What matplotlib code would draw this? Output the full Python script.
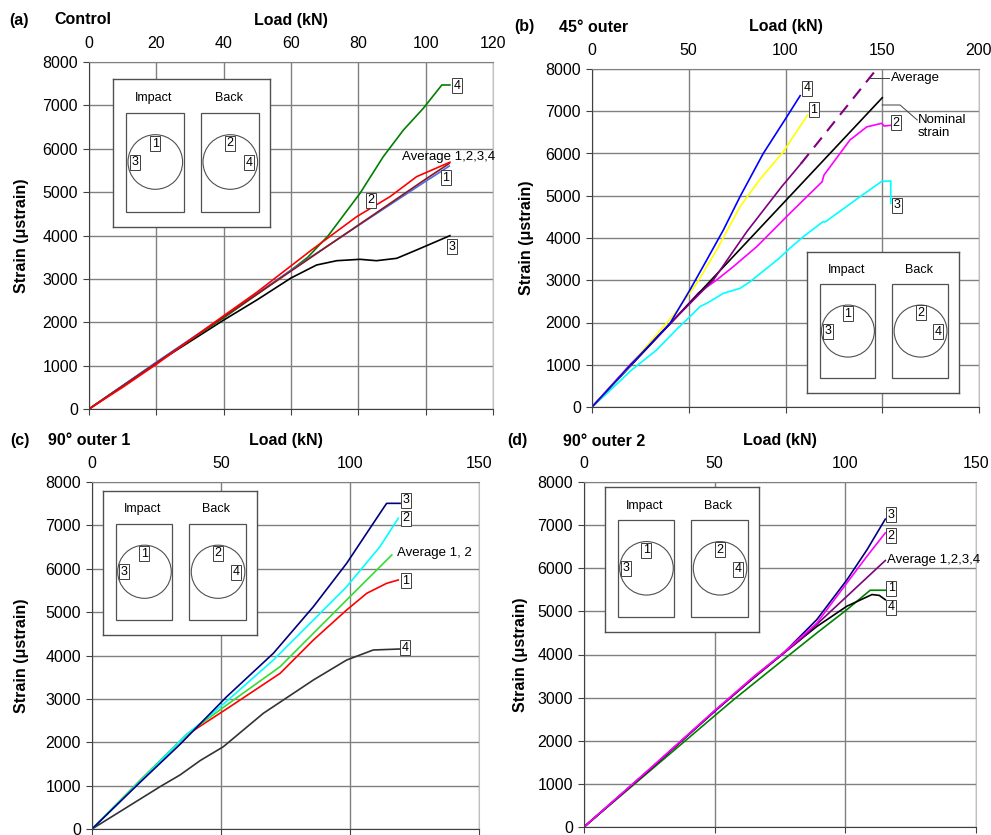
import matplotlib
matplotlib.use('Agg')
import matplotlib.pyplot as plt
from matplotlib.patches import Rectangle, Circle

plt.rcParams['font.family'] = ['Liberation Sans', 'DejaVu Sans']

W, H = 991, 835

# ---- (a) Control ----
a_avg_x = [0, 20, 40, 60, 80, 100, 107]
a_avg_y = [0, 1060, 2120, 3180, 4240, 5300, 5660]
a_1_x = [0, 20, 40, 60, 80, 100, 107]
a_1_y = [0, 1080, 2130, 3200, 4230, 5250, 5600]
a_2_x = [0, 10, 20, 40, 50, 60, 66, 79.5, 89.4, 97.3, 107.2]
a_2_y = [0, 500, 1030, 2150, 2700, 3300, 3660, 4434, 4895, 5356, 5690]
a_3_x = [0, 20, 40, 50, 60, 67.6, 73.6, 80.5, 85.4, 91.4, 97.3, 107.2]
a_3_y = [0, 1060, 2050, 2520, 3020, 3320, 3419, 3451, 3419, 3474, 3666, 3996]
a_4_x = [0, 20, 40, 60, 65, 71.1, 80.5, 87.4, 93.4, 99.3, 104.8, 107.2]
a_4_y = [0, 1070, 2100, 3200, 3500, 4000, 4973, 5817, 6432, 6932, 7470, 7470]

# ---- (b) 45 outer ----
b_4_x = [0, 20, 40.3, 50.6, 59.3, 67.9, 76.5, 88.5, 100.7, 107.6]
b_4_y = [0, 1000, 1980, 2770, 3480, 4190, 4980, 6000, 6870, 7370]
b_1_x = [0, 20, 42.9, 54.1, 64.4, 76.5, 87, 98.9, 111.4]
b_1_y = [0, 1000, 2218, 2927, 3716, 4741, 5400, 6043, 6910]
b_avg_x = [0, 20, 40, 62.7, 80, 98, 108]
b_avg_y = [0, 1000, 1960, 3006, 4150, 5214, 5760]
b_avgext_x = [108, 148]
b_avgext_y = [5760, 8050]
b_nom_x = [0, 150]
b_nom_y = [0, 7320]
b_2_x = [0, 20, 40, 55, 64.4, 73, 85.1, 102.4, 118.9, 119.9, 133.3, 142, 149.7, 151, 155]
b_2_y = [0, 1020, 1950, 2700, 3006, 3321, 3794, 4590, 5330, 5490, 6320, 6630, 6714, 6650, 6670]
b_3_x = [0, 10, 20, 33.4, 44, 50.6, 55.9, 59.3, 67.9, 76.5, 81.7, 97, 102.3, 109.3, 119.4, 120.5,
         138.6, 149.7, 154.4, 154.4]
b_3_y = [0, 420, 860, 1350, 1850, 2137, 2380, 2454, 2691, 2809, 2966, 3530, 3760, 4035, 4386, 4380,
         4980, 5340, 5350, 4820]

# ---- (c) 90 outer 1 ----
c_3_x = [0, 18.7, 34.1, 52.2, 70.3, 85.8, 98.7, 111.6, 114.2, 119.4]
c_3_y = [0, 1080, 1950, 3050, 4051, 5125, 6125, 7278, 7508, 7508]
c_2_x = [0, 20, 36.8, 52.3, 70.3, 85.8, 98.7, 111.6, 118.7]
c_2_y = [0, 1180, 2180, 2950, 3896, 4818, 5586, 6508, 7163]
c_avg_x = [0, 20, 37, 54.9, 72.9, 85.8, 98.7, 116.2]
c_avg_y = [0, 1200, 2200, 2975, 3742, 4511, 5280, 6317]
c_1_x = [0, 20, 37, 53.5, 72.9, 85.8, 98.7, 106.5, 114.2, 118.7]
c_1_y = [0, 1200, 2180, 2820, 3588, 4357, 5049, 5434, 5664, 5741]
c_4_x = [0, 26.5, 34.1, 42, 50.9, 66.4, 85.8, 98.7, 109, 119.4]
c_4_y = [0, 980, 1245, 1580, 1897, 2667, 3435, 3896, 4127, 4150]

# ---- (d) 90 outer 2 ----
d_3_x = [0, 25, 50, 65, 76.3, 89.1, 100.6, 108.3, 115.3]
d_3_y = [0, 1330, 2680, 3480, 4030, 4810, 5730, 6430, 7140]
d_2_x = [0, 25, 50, 65, 76.3, 89.1, 100.6, 108.3, 115.3]
d_2_y = [0, 1340, 2700, 3490, 4040, 4730, 5660, 6280, 6820]
d_avg_x = [0, 25, 50, 65, 82.7, 100.6, 115.3]
d_avg_y = [0, 1330, 2690, 3470, 4340, 5350, 6180]
d_1_x = [0, 25, 50, 57.2, 76.3, 89.1, 100.6, 109.5, 115.3]
d_1_y = [0, 1290, 2580, 2950, 3880, 4500, 5040, 5490, 5490]
d_4_x = [0, 25, 50, 65, 76.3, 89.1, 100.6, 110.2, 113, 115.3]
d_4_y = [0, 1320, 2690, 3460, 4030, 4650, 5120, 5390, 5370, 5270]

y_ticks = [0, 1000, 2000, 3000, 4000, 5000, 6000, 7000, 8000]


def fx(px):
    return px / W


def fy(py):
    return 1 - py / H


fig = plt.figure(figsize=(W / 100, H / 100), dpi=100)


def make_axes(left, top, right, bottom, xmax, xstep):
    ax = fig.add_axes([fx(left), fy(bottom), (right - left) / W, (bottom - top) / H])
    ax.set_xlim(0, xmax)
    ax.set_ylim(0, 8000)
    ax.set_xticks(list(range(0, xmax + 1, xstep)))
    ax.set_yticks(y_ticks)
    ax.grid(True, color='#808080', lw=1.0)
    ax.set_axisbelow(True)
    ax.tick_params(axis='x', bottom=True, top=False, labelbottom=False, labeltop=True,
                   direction='out', length=4, pad=4.2, labelsize=11.5, color='#404040')
    ax.tick_params(axis='y', direction='out', length=4, pad=4, labelsize=11.5, color='#404040')
    for s in ['left', 'bottom']:
        ax.spines[s].set_color('#404040')
    ax.spines['top'].set_color('#808080')
    ax.spines['right'].set_color('#c0c0c0')
    return ax


def box_label(ax, x, y, s, ha='center'):
    ax.text(x, y, s, fontsize=9, ha=ha, va='center', zorder=5,
            bbox=dict(boxstyle='square,pad=0.12', fc='white', ec='#404040', lw=0.7))


def inset(left, top, w, h):
    ia = fig.add_axes([fx(left), fy(top + h), w / W, h / H])
    ia.set_xlim(0, 157)
    ia.set_ylim(148, 0)
    ia.set_xticks([])
    ia.set_yticks([])
    for s in ia.spines.values():
        s.set_color('#505050')
        s.set_linewidth(1.0)
    ia.set_facecolor('white')
    ia.text(40.7, 19, 'Impact', fontsize=9, ha='center', va='center')
    ia.text(115.7, 19, 'Back', fontsize=9, ha='center', va='center')
    ia.add_patch(Rectangle((13, 34), 57.7, 98.7, fill=False, ec='#505050', lw=0.9))
    ia.add_patch(Rectangle((87.7, 34), 58, 98.7, fill=False, ec='#505050', lw=0.9))
    ia.add_patch(Circle((42.3, 83), 27.3, fill=False, ec='#505050', lw=0.8))
    ia.add_patch(Circle((117.3, 83), 27.3, fill=False, ec='#505050', lw=0.8))
    box_label(ia, 42.3, 64.7, '1')
    box_label(ia, 21.7, 83, '3')
    box_label(ia, 117.3, 64, '2')
    box_label(ia, 135.7, 83.7, '4')


def headers(left, top, right, bottom, letter, lx, title, tx, ty, ylx):
    fig.text(fx(lx), fy(ty), letter, fontsize=11.5, fontweight='bold', ha='left', va='center')
    fig.text(fx(tx), fy(ty), title, fontsize=11.5, fontweight='bold', ha='left', va='center')
    fig.text(fx((left + right) / 2), fy(ty), 'Load (kN)', fontsize=11.5, fontweight='bold',
             ha='center', va='center')
    fig.text(fx(ylx), fy((top + bottom) / 2), 'Strain (\u03bcstrain)', fontsize=11.5,
             fontweight='bold', rotation=90, ha='center', va='center')


LW = 1.2

# (a)
ax = make_axes(89, 62, 493, 409, 120, 20)
ax.plot(a_3_x, a_3_y, color='black', lw=LW)
ax.plot(a_4_x, a_4_y, color='#008000', lw=LW)
ax.plot(a_1_x, a_1_y, color='#4a6cf0', lw=LW)
ax.plot(a_avg_x, a_avg_y, color='#8b1a1a', lw=LW)
ax.plot(a_2_x, a_2_y, color='red', lw=LW)
box_label(ax, 109.3, 7447, '4')
box_label(ax, 106.0, 5326, '1')
box_label(ax, 83.8, 4818, '2')
box_label(ax, 107.8, 3735, '3')
ax.text(93.0, 5810, 'Average 1,2,3,4', fontsize=9.5, ha='left', va='center')
headers(89, 62, 493, 409, '(a)', 9, 'Control', 54, 20, 22)
inset(113, 79, 157, 148)

# (b)
ax = make_axes(592, 69, 979, 407, 200, 50)
ax.plot(b_3_x, b_3_y, color='#00ffff', lw=LW)
ax.plot(b_2_x, b_2_y, color='#ff00ff', lw=LW)
ax.plot(b_nom_x, b_nom_y, color='black', lw=LW)
ax.plot(b_avg_x, b_avg_y, color='#800080', lw=LW)
ax.plot(b_avgext_x, b_avgext_y, color='#800080', lw=LW + 0.3, ls=(0, (6, 4)))
ax.plot(b_1_x, b_1_y, color='#ffff00', lw=LW)
ax.plot(b_4_x, b_4_y, color='#0000ff', lw=LW)
box_label(ax, 111.1, 7550, '4')
box_label(ax, 114.7, 7030, '1')
box_label(ax, 157.1, 6722, '2')
box_label(ax, 157.6, 4781, '3')
ax.plot([143.5, 153.5], [7787, 7787], color='#404040', lw=0.7)
ax.text(154.5, 7787, 'Average', fontsize=9.5, ha='left', va='center')
ax.plot([150, 159.2, 168.1], [7148, 7148, 6793], color='#404040', lw=0.7)
ax.text(168.5, 6640, 'Nominal\nstrain', fontsize=9.5, ha='left', va='center', linespacing=1.1)
headers(592, 69, 979, 407, '(b)', 514, '45\u00b0 outer', 559, 27, 527)
inset(807, 252, 152, 141)

# (c)
ax = make_axes(92, 482, 479, 829, 150, 50)
ax.plot(c_4_x, c_4_y, color='#333333', lw=LW)
ax.plot(c_1_x, c_1_y, color='red', lw=LW)
ax.plot(c_avg_x, c_avg_y, color='#33dd33', lw=LW)
ax.plot(c_2_x, c_2_y, color='#00ffff', lw=LW)
ax.plot(c_3_x, c_3_y, color='#000080', lw=LW)
box_label(ax, 121.7, 7585, '3')
box_label(ax, 121.7, 7170, '2')
box_label(ax, 121.7, 5718, '1')
box_label(ax, 121.3, 4173, '4')
ax.text(118.2, 6363, 'Average 1, 2', fontsize=9.5, ha='left', va='center')
headers(92, 482, 479, 829, '(c)', 10, '90\u00b0 outer 1', 48, 440, 22)
inset(103, 491, 154, 144)

# (d)
ax = make_axes(584, 482, 976, 827, 150, 50)
ax.plot(d_3_x, d_3_y, color='#000080', lw=LW)
ax.plot(d_1_x, d_1_y, color='#008000', lw=LW)
ax.plot(d_4_x, d_4_y, color='black', lw=LW)
ax.plot(d_avg_x, d_avg_y, color='#800080', lw=LW)
ax.plot(d_2_x, d_2_y, color='#ff00ff', lw=LW)
box_label(ax, 117.5, 7235, '3')
box_label(ax, 117.5, 6748, '2')
box_label(ax, 117.5, 5542, '1')
box_label(ax, 117.5, 5101, '4')
ax.text(115.9, 6191, 'Average 1,2,3,4', fontsize=9.5, ha='left', va='center')
headers(584, 482, 976, 827, '(d)', 507, '90\u00b0 outer 2', 563, 441, 520)
inset(605, 487, 154, 145)

fig.savefig('out.png', dpi=100)
